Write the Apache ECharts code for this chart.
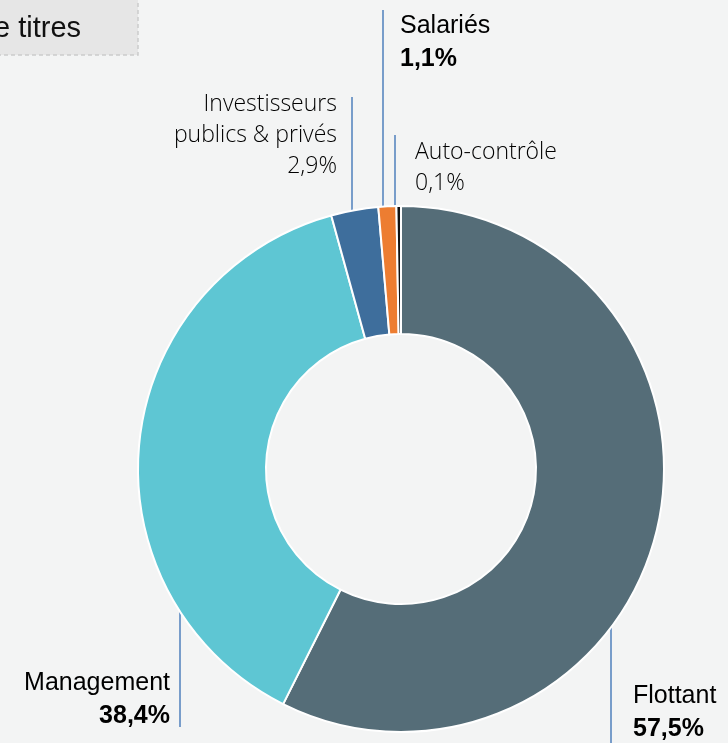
<!DOCTYPE html>
<html><head><meta charset="utf-8">
<script src="https://cdn.jsdelivr.net/npm/echarts@6/dist/echarts.min.js"></script>
<style>html,body{margin:0;padding:0;background:#f3f4f4;}#c{width:728px;height:743px;}</style>
</head><body><div id="c"></div>
<script>
// Data
const categories = ['Flottant', 'Management', 'Investisseurs\npublics & privés', 'Salariés', 'Auto-contrôle'];
const shares = [57.5, 38.4, 2.9, 1.1, 0.1];
const colors = ['#556d78', '#5ec6d3', '#3e6e9c', '#ed7d31', '#111111'];
const titleText = 'e titres';

// label styles (light vs regular/bold)
const lightLabel = [false, false, true, false, true];
const labelPos = [
  {x: 633, y: 680, align: 'left',  line: [611, 620, 760]},
  {x: 170, y: 667, align: 'right', line: [180, 603, 727]},
  {x: 337, y: 89,  align: 'right', line: [352, 212, 97]},
  {x: 400, y: 10,  align: 'left',  line: [383, 207, 10]},
  {x: 415, y: 137, align: 'left',  line: [395, 207, 135]}
];

const fmt = v => v.toFixed(1).replace('.', ',') + '%';

const chart = echarts.init(document.getElementById('c'), null, {renderer: 'canvas'});
const data = categories.map((c, i) => ({
  name: c, value: shares[i],
  itemStyle: {color: colors[i]},
  label: {
    formatter: p => {
      const lines = p.name.split('\n');
      if (lightLabel[p.dataIndex]) {
        return lines.map(l => '{l|' + l + '}').join('\n') + '\n{l|' + fmt(p.value) + '}';
      }
      return lines.map(l => '{n|' + l + '}').join('\n') + '\n{b|' + fmt(p.value) + '}';
    }
  }
}));

chart.setOption({
  backgroundColor: '#f3f4f4',
  animation: false,
  graphic: [
    {type: 'rect', shape: {x: -10, y: -10, width: 148, height: 65},
     style: {fill: '#e6e6e6', stroke: '#cccccc', lineWidth: 1.5, lineDash: [4, 3]}},
    {type: 'text', x: -6, y: 29, style: {text: titleText, font: '29px "Liberation Sans", Arial, sans-serif', fill: '#111', textVerticalAlign: 'middle'}}
  ],
  series: [{
    type: 'pie',
    center: [401, 469],
    radius: [135, 263],
    startAngle: 90,
    clockwise: true,
    minAngle: 1,
    avoidLabelOverlap: false,
    itemStyle: {borderColor: '#ffffff', borderWidth: 2},
    label: {
      show: true,
      rich: {
        n: {fontFamily: '"Liberation Sans", Arial, sans-serif', fontSize: 25, lineHeight: 33, color: '#000'},
        b: {fontFamily: '"Liberation Sans", Arial, sans-serif', fontSize: 25, lineHeight: 33, fontWeight: 'bold', color: '#000'},
        l: {fontFamily: '"Open Sans", "Noto Sans", sans-serif', fontWeight: 300, fontSize: 23, lineHeight: 31, color: '#000'}
      }
    },
    labelLine: {show: true, lineStyle: {color: '#4f81bd', width: 1.5}},
    labelLayout: function (params) {
      const p = labelPos[params.dataIndex];
      const lx = p.line[0];
      return {
        x: p.x, y: p.y, align: p.align, verticalAlign: 'top',
        labelLinePoints: [[lx, p.line[1]], [lx, (p.line[1] + p.line[2]) / 2], [lx, p.line[2]]]
      };
    },
    data: data
  }]
});
</script></body></html>
